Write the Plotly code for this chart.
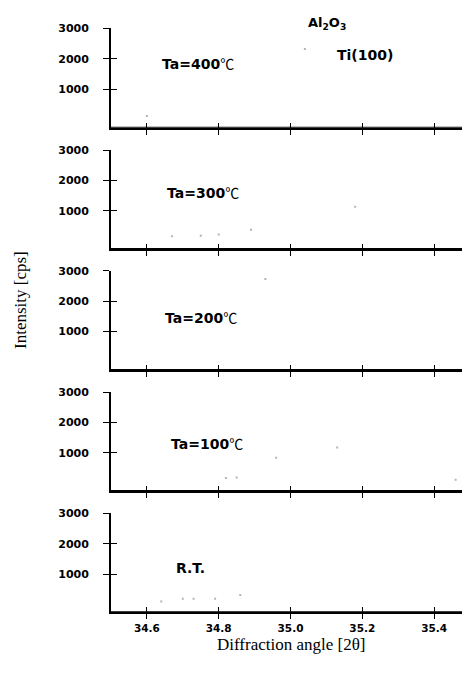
import plotly.graph_objects as go

# ---------------- data ----------------
panel_labels = ["Ta=400℃", "Ta=300℃", "Ta=200℃", "Ta=100℃", "R.T."]

two_theta = [34.50, 34.60, 34.70, 34.80, 34.90, 35.00, 35.10, 35.20, 35.30, 35.40, 35.50]
# background curves lie on the panel baseline
intensity_400 = [-250, -252, -249, -251, -247, -246, -250, -252, -250, -251, -250]
intensity_300 = [-251, -248, -250, -249, -251, -250, -250, -246, -250, -251, -250]
intensity_200 = [-250, -251, -250, -247, -249, -250, -251, -248, -250, -250, -251]
intensity_100 = [-250, -249, -251, -248, -250, -251, -250, -249, -247, -250, -250]
intensity_rt = [-251, -250, -249, -250, -248, -250, -251, -250, -250, -249, -250]

# faint scattered points visible in each panel
speck_x_400 = [34.60, 35.04]
speck_y_400 = [125, 2320]
speck_x_300 = [34.67, 34.75, 34.80, 34.89, 35.18]
speck_y_300 = [160, 180, 220, 380, 1140]
speck_x_200 = [34.93]
speck_y_200 = [2730]
speck_x_100 = [34.82, 34.85, 34.96, 35.13, 35.46]
speck_y_100 = [170, 190, 840, 1180, 115]
speck_x_rt = [34.64, 34.70, 34.73, 34.79, 34.86]
speck_y_rt = [90, 180, 180, 180, 310]

label_x = [34.742, 34.757, 34.752, 34.768, 34.721]
label_y = [1860, 1610, 1470, 1330, 1190]

y_ticks = [1000, 2000, 3000]
y_ticklabels = ["1000", "2000", "3000"]
x_ticks = [34.6, 34.8, 35.0, 35.2, 35.4]
x_ticklabels = ["34.6", "34.8", "35.0", "35.2", "35.4"]

intensities = [intensity_400, intensity_300, intensity_200, intensity_100, intensity_rt]
specks_x = [speck_x_400, speck_x_300, speck_x_200, speck_x_100, speck_x_rt]
specks_y = [speck_y_400, speck_y_300, speck_y_200, speck_y_100, speck_y_rt]

# ---------------- layout geometry ----------------
OFF = 8                      # page body margin of the html page
W, H = 470 - OFF, 686 - OFF  # figure size so that it fits the window exactly
panel_px = [(28.3, 127.7), (150.3, 249.0), (270.7, 370.0), (392.3, 491.0), (513.3, 612.2)]


def px_x(px):
    return (px - OFF) / W


def px_y(py):
    return 1 - (py - OFF) / H


x_domain = [px_x(111), 1.0]
y_range = [-260, 3002]
x_range = [34.5, 35.5]

fig = go.Figure()
layout = dict(
    width=W, height=H, autosize=False,
    margin=dict(l=0, r=0, t=0, b=0, pad=0, autoexpand=False),
    paper_bgcolor="white", plot_bgcolor="white",
    showlegend=False,
    font=dict(family="DejaVu Sans", color="black"),
)

tick_font_y = dict(family="DejaVu Sans", size=11, color="black", weight="bold")
tick_font_x = dict(family="DejaVu Sans", size=10.5, color="black", weight="bold")

CELSIUS = "<span style='font-family:Noto Sans CJK SC;font-weight:normal'>℃</span>"

annotations = []
for i in range(5):
    n = i + 1
    m = i + 6
    top, bot = panel_px[i]
    dom = [px_y(bot), px_y(top)]
    xs = "" if n == 1 else str(n)
    ms = str(m)

    fig.add_trace(go.Scatter(
        x=two_theta, y=intensities[i], mode="lines",
        line=dict(color="black", width=1.5),
        xaxis="x" + xs, yaxis="y" + xs, hoverinfo="skip"))
    fig.add_trace(go.Scatter(
        x=specks_x[i], y=specks_y[i], mode="markers",
        marker=dict(color="#b4b4b4", size=2, symbol="square"),
        xaxis="x" + xs, yaxis="y" + xs, hoverinfo="skip"))
    # invisible trace on overlay axes (used to draw inward tick halves)
    fig.add_trace(go.Scatter(
        x=two_theta, y=intensities[i], mode="lines", opacity=0,
        xaxis="x" + ms, yaxis="y" + ms, hoverinfo="skip"))

    layout["xaxis" + xs] = dict(
        domain=x_domain, range=x_range, anchor="y" + xs, automargin=False,
        showgrid=False, zeroline=False,
        showline=True, linecolor="black", linewidth=1.8,
        ticks="outside", ticklen=5, tickwidth=1.3, tickcolor="black",
        tickmode="array", tickvals=x_ticks, ticktext=x_ticklabels,
        showticklabels=(n == 5), tickfont=tick_font_x, ticklabelstandoff=0,
    )
    layout["yaxis" + xs] = dict(
        domain=dom, range=y_range, anchor="x" + xs, automargin=False,
        showgrid=False, zeroline=False,
        showline=True, linecolor="black", linewidth=1.8,
        ticks="outside", ticklen=6, tickwidth=1.3, tickcolor="black",
        tickmode="array", tickvals=y_ticks, ticktext=y_ticklabels,
        tickfont=tick_font_y, ticklabelstandoff=12,
    )
    layout["xaxis" + ms] = dict(
        overlaying="x" + xs, range=x_range, anchor="y" + ms, automargin=False,
        showgrid=False, zeroline=False, showline=False,
        ticks="inside", ticklen=5, tickwidth=1.3, tickcolor="black",
        tickmode="array", tickvals=x_ticks, showticklabels=False,
    )
    layout["yaxis" + ms] = dict(
        overlaying="y" + xs, range=y_range, anchor="x" + ms, automargin=False,
        showgrid=False, zeroline=False, showline=False,
        ticks="inside", ticklen=6, tickwidth=1.3, tickcolor="black",
        tickmode="array", tickvals=y_ticks, showticklabels=False,
    )

    annotations.append(dict(
        x=label_x[i], y=label_y[i], xref="x" + xs, yref="y" + xs,
        xanchor="center", yanchor="middle",
        text=panel_labels[i].replace("℃", CELSIUS), showarrow=False,
        font=dict(family="DejaVu Sans", size=14, color="black", weight="bold"),
    ))

annotations.append(dict(
    x=px_x(327), y=px_y(23), xref="paper", yref="paper",
    xanchor="center", yanchor="middle",
    text="Al<sub>2</sub>O<sub>3</sub>", showarrow=False,
    font=dict(family="DejaVu Sans", size=13, color="black", weight="bold")))
annotations.append(dict(
    x=35.208, y=2125, xref="x", yref="y", xanchor="center", yanchor="middle",
    text="Ti(100)", showarrow=False,
    font=dict(family="DejaVu Sans", size=14, color="black", weight="bold")))

annotations.append(dict(
    x=px_x(20), y=px_y(300), xref="paper", yref="paper",
    xanchor="center", yanchor="middle",
    text="Intensity [cps]", textangle=-90, showarrow=False,
    font=dict(family="Liberation Serif", size=17, color="black")))
annotations.append(dict(
    x=px_x(291), y=px_y(644), xref="paper", yref="paper",
    xanchor="center", yanchor="middle",
    text="Diffraction angle [2θ]", showarrow=False,
    font=dict(family="Liberation Serif", size=17, color="black")))

layout["annotations"] = annotations
fig.update_layout(**layout)

fig.write_html("out.html")
